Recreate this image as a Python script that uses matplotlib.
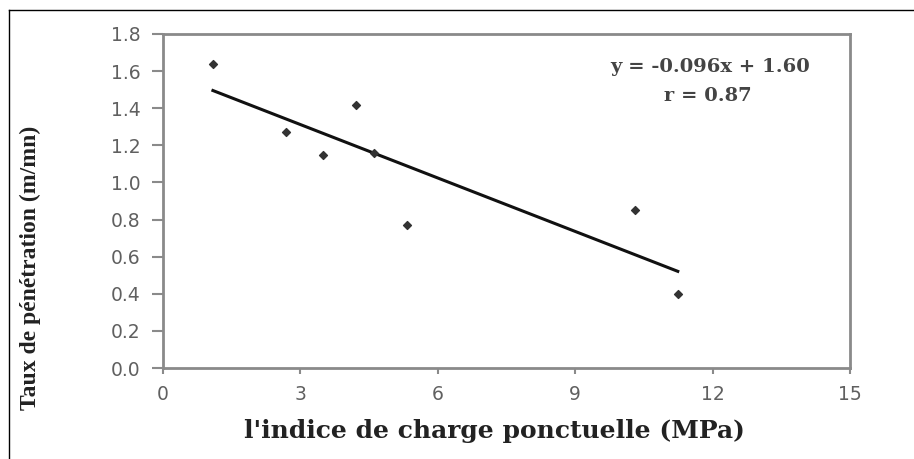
import matplotlib
matplotlib.use("Agg")
import matplotlib.pyplot as plt
import numpy as np
from matplotlib.lines import Line2D

# data
indice = [1.09, 2.69, 3.49, 4.21, 4.61, 5.33, 10.31, 11.24]
taux = [1.64, 1.27, 1.15, 1.42, 1.16, 0.77, 0.85, 0.40]
slope = -0.096
intercept = 1.60
x_ticks = [0, 3, 6, 9, 12, 15]
y_ticks = [0.0, 0.2, 0.4, 0.6, 0.8, 1.0, 1.2, 1.4, 1.6, 1.8]

W, H = 914, 459
serif = ["DejaVu Serif"]

fig = plt.figure(figsize=(W / 100, H / 100), dpi=100)
ax = fig.add_axes([163 / W, 1 - 368 / H, 687 / W, 334 / H])

ax.scatter(indice, taux, marker="D", s=16, color="#333333", zorder=3)
xl = np.array([min(indice), max(indice)])
ax.plot(xl, slope * xl + intercept, color="#111111", lw=2.2)

ax.set_xlim(0, 15)
ax.set_ylim(0, 1.8)
ax.set_xticks(x_ticks)
ax.set_yticks(y_ticks)
ax.set_yticklabels([f"{v:.1f}" for v in y_ticks])
for s in ax.spines.values():
    s.set_color("#8a8a8a")
    s.set_linewidth(2)
ax.tick_params(direction="out", width=1.5, color="#8a8a8a",
               labelcolor="#606060", labelsize=13.5)
ax.tick_params(axis="y", length=8, pad=8)
ax.tick_params(axis="x", length=4, pad=8)

fig.text(494 / W, 1 - 431 / H, "l'indice de charge ponctuelle (MPa)",
         family=serif, fontweight="bold", fontsize=18, color="#222222",
         ha="center", va="center")
fig.text(30 / W, 1 - 268 / H, "Taux de pénétration (m/mn)", rotation=90,
         family=["Liberation Serif"], fontweight="bold", fontsize=17, color="#222222",
         ha="center", va="center")

fig.text(710 / W, 1 - 67 / H, "y = -0.096x + 1.60", family=serif,
         fontweight="bold", fontsize=14, color="#444444", ha="center", va="center")
fig.text(708 / W, 1 - 96 / H, "r = 0.87", family=serif,
         fontweight="bold", fontsize=14, color="#444444", ha="center", va="center")

# border of the original picture (top and left only)
fig.add_artist(Line2D([9 / W, 1], [1 - 10 / H, 1 - 10 / H],
                      transform=fig.transFigure, color="black", lw=1))
fig.add_artist(Line2D([9 / W, 9 / W], [0, 1 - 10 / H],
                      transform=fig.transFigure, color="black", lw=1))

fig.savefig("out.png", dpi=100)
